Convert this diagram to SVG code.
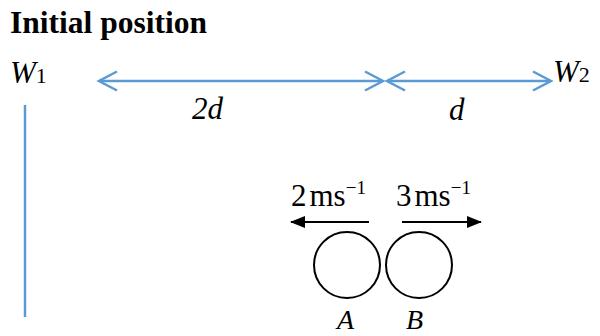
<svg xmlns="http://www.w3.org/2000/svg" width="600" height="336" viewBox="0 0 600 336">
<style>
text{font-family:'Liberation Serif','Times New Roman',serif;fill:#000}
.i{font-style:italic}
.dim{stroke:#5b9bd5;stroke-width:2.5;fill:none}
.blk{stroke:#000;stroke-width:2;fill:none}
</style>
<defs>
<marker id="tri" viewBox="0 0 15 12" refX="14" refY="6" markerWidth="15" markerHeight="12" orient="auto" markerUnits="userSpaceOnUse">
<path d="M0,0 L15,6 L0,12 Z" fill="#000"/>
</marker>
</defs>
<rect width="600" height="336" fill="#fff"/>
<text x="10" y="33" font-size="31.5" font-weight="bold">Initial position</text>
<g id="W1"><text x="10" y="83" font-size="31"><tspan class="i">W</tspan><tspan font-size="22">1</tspan></text>
<line class="dim" x1="25" y1="105" x2="25" y2="317"/></g>
<g id="W2"><text x="553" y="82" font-size="31"><tspan class="i">W</tspan><tspan font-size="22">2</tspan></text></g>
<g id="connectors">
<line class="dim" x1="99" y1="81" x2="383" y2="81"/>
<polyline class="dim" points="117,71.5 99,81 117,90.5"/>
<polyline class="dim" points="365,71.5 383,81 365,90.5"/>
<line class="dim" x1="387" y1="81" x2="551" y2="81"/>
<polyline class="dim" points="405,71.5 387,81 405,90.5"/>
<polyline class="dim" points="533,71.5 551,81 533,90.5"/>
<line class="blk" x1="369" y1="222" x2="291" y2="222" marker-end="url(#tri)"/>
<line class="blk" x1="402" y1="222" x2="481" y2="222" marker-end="url(#tri)"/>
</g>
<text class="i" x="192" y="119" font-size="31">2d</text>
<text class="i" x="449" y="120" font-size="31">d</text>
<g id="A">
<circle cx="347" cy="265" r="33" fill="none" stroke="#000" stroke-width="2"/>
<text class="i" x="337" y="329" font-size="28">A</text>
<text x="291" y="206" font-size="31">2<tspan dx="3">ms</tspan><tspan font-size="19" dy="-12">−1</tspan></text>
</g>
<g id="B">
<circle cx="419" cy="265" r="33" fill="none" stroke="#000" stroke-width="2"/>
<text class="i" x="406" y="329" font-size="28">B</text>
<text x="396" y="206" font-size="31">3<tspan dx="3">ms</tspan><tspan font-size="19" dy="-12">−1</tspan></text>
</g>
</svg>
